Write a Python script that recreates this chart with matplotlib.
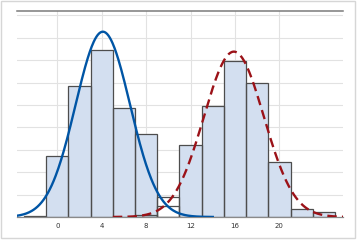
import numpy as np
import matplotlib.pyplot as plt
from matplotlib.patches import Rectangle

# histogram bins (width 2), heights in grid units
bin_width = 2
edges_a = [-3, -1, 1, 3, 5, 7, 9]
heights_a = [0.06, 2.72, 5.85, 7.44, 4.85, 3.69, 0.48]
edges_b = [7, 9, 11, 13, 15, 17, 19, 21, 23]
heights_b = [0.08, 0.88, 3.2, 4.96, 6.95, 5.97, 2.44, 0.34, 0.21]

# fitted normal curves: mean, sd, peak height
fit_a = (4.1, 2.45, 8.27)
fit_b = (15.9, 2.7, 7.38)

xticks = [0, 4, 8, 12, 16, 20]

bar_fill = '#d3dff0'
bar_edge = '#4d4d4d'

fig = plt.figure(figsize=(3.6, 2.4), dpi=100)
ax = fig.add_axes([17 / 360, 23 / 240, 325.7 / 360, 205.7 / 240])

ax.set_xlim(-3.63, 25.7)
ax.set_ylim(0, 9.18)

# grid
for y in range(1, 10):
    ax.axhline(y, color='#e2e2e2', lw=0.8, zorder=0)
for x in xticks:
    ax.axvline(x, color='#e2e2e2', lw=0.8, zorder=0)

# bar fills first, then outlines
fill_b = [bar_fill, 'white'] + [bar_fill] * (len(edges_b) - 2)
fill_a = [bar_fill] * (len(edges_a) - 1) + ['white']
ax.bar(edges_b, heights_b, width=bin_width, align='edge', color=fill_b, lw=0, zorder=1)
ax.bar(edges_a, heights_a, width=bin_width, align='edge', color=fill_a, lw=0, zorder=1)
ax.bar(edges_a, heights_a, width=bin_width, align='edge', fill=False,
       edgecolor=bar_edge, lw=0.9, zorder=2)
ax.bar(edges_b, heights_b, width=bin_width, align='edge', fill=False,
       edgecolor=bar_edge, lw=0.9, zorder=2)

# fitted curves
xa = np.linspace(-4, 14, 300)
m, s, h = fit_a
ax.plot(xa, h * np.exp(-0.5 * ((xa - m) / s) ** 2), color='#0055a5', lw=1.7, zorder=3)
xb = np.linspace(5, 26.5, 300)
m, s, h = fit_b
ax.plot(xb, h * np.exp(-0.5 * ((xb - m) / s) ** 2), color='#9b1218', lw=1.7,
        dashes=(4, 2.2), zorder=3)

ax.set_xticks(xticks)
ax.set_xticklabels([str(t) for t in xticks])
ax.set_yticks([])
ax.tick_params(axis='x', length=0, pad=4, labelsize=5, labelcolor='#333333')

for side in ['left', 'right']:
    ax.spines[side].set_visible(False)
ax.spines['top'].set_color('#7a7a7a')
ax.spines['top'].set_linewidth(1.1)
ax.spines['bottom'].set_color('#8a8a8a')
ax.spines['bottom'].set_linewidth(0.9)

# light frame round the picture
fig.patches.append(Rectangle((1 / 360, 2.5 / 240), 354 / 360, 236.5 / 240,
                             transform=fig.transFigure, fill=False,
                             edgecolor='#d6d6d6', lw=1))

fig.savefig('out.png', dpi=100)
